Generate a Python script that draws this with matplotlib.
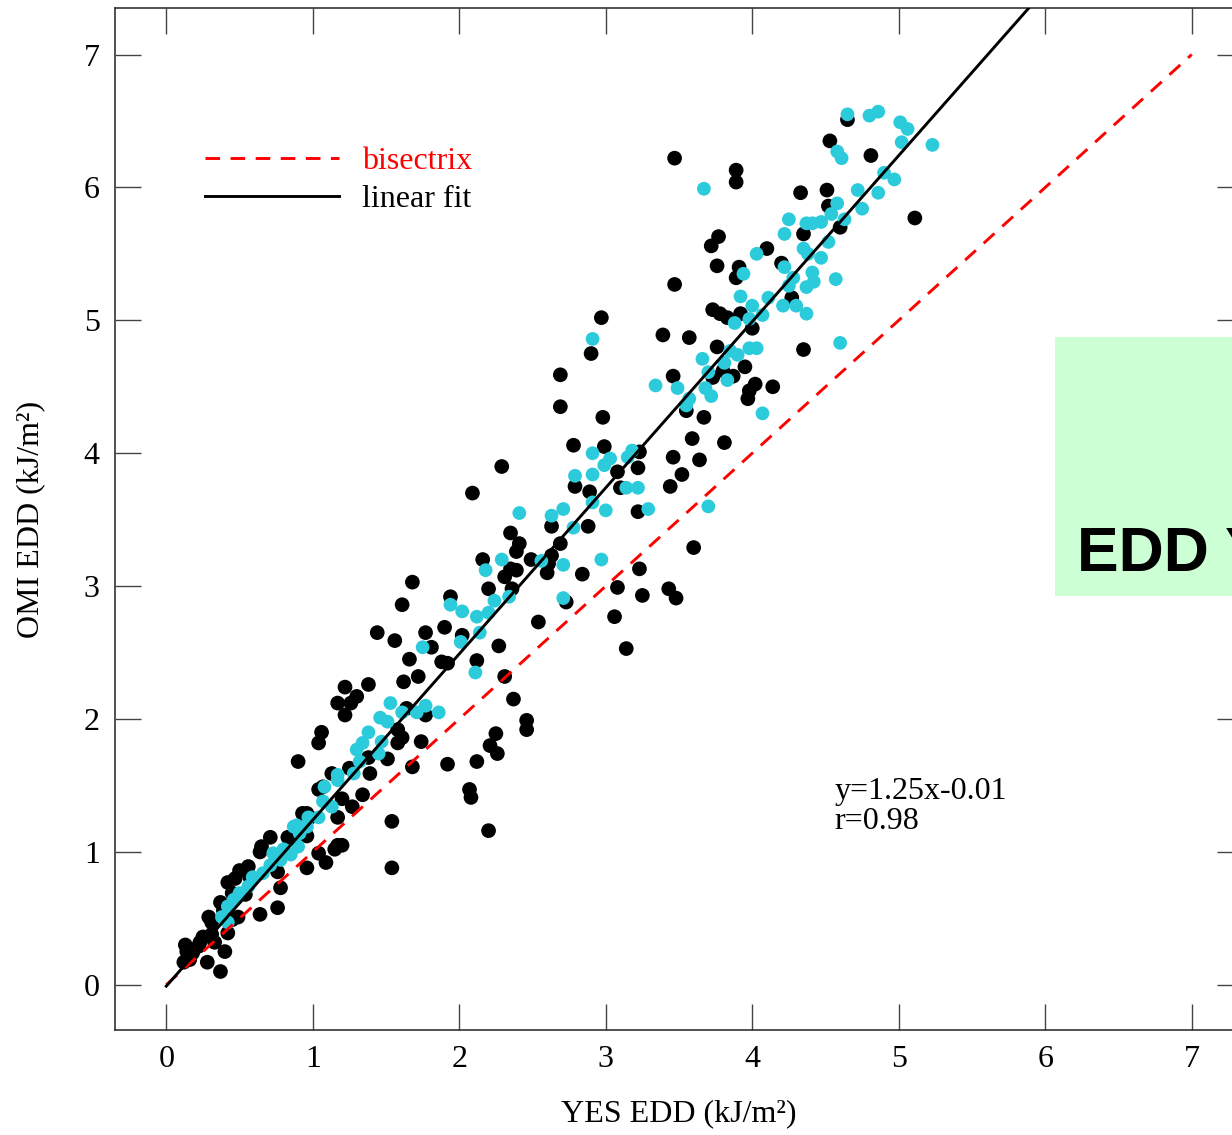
import matplotlib
matplotlib.use("Agg")
import matplotlib.pyplot as plt
from matplotlib.patches import Rectangle
import numpy as np

plt.rcParams['font.family'] = ['Liberation Serif', 'DejaVu Serif']

# ---- data (YES EDD, OMI EDD) in kJ/m2 ----
black_x = [3.47, 3.89, 3.89, 4.53, 4.81, 4.65, 4.33, 4.51, 4.52, 4.60, 4.35, 3.77, 3.72, 4.10, 4.20,
           3.76, 3.91, 3.89, 3.47, 5.11, 3.73, 3.78, 3.83, 3.92, 4.00, 4.27, 3.39, 3.57, 3.76, 4.35,
           2.97, 3.95, 3.80, 3.87, 3.73, 3.46, 4.02, 3.98, 3.97, 4.14, 2.98, 3.67, 3.55, 3.59, 3.81,
           2.99, 3.23, 3.08, 3.22, 3.46, 3.64, 3.52, 3.44, 3.10, 2.90, 2.69, 2.69, 2.29, 2.78, 2.79,
           2.89, 2.09, 3.22, 2.88, 2.63, 2.35, 2.41, 2.69, 2.39, 2.16, 2.49, 2.63, 2.61, 2.35, 2.39,
           2.31, 2.60, 2.84, 3.23, 3.60, 2.36, 2.20, 3.08, 3.25, 3.43, 3.48, 1.94, 2.73, 2.54, 3.06,
           1.90, 1.77, 2.02, 1.81, 2.27, 3.14, 1.68, 1.61, 1.44, 1.56, 1.66, 1.88, 1.92, 2.12, 1.72,
           1.62, 2.31, 1.38, 1.22, 1.17, 1.30, 1.26, 1.22, 1.64, 1.77, 2.37, 2.46, 2.46, 1.06, 1.04,
           1.58, 1.61, 1.58, 1.74, 2.25, 2.21, 2.26, 0.90, 1.51, 1.68, 1.92, 2.12, 1.38, 1.39, 2.07,
           2.08, 1.13, 1.25, 1.04, 1.07, 1.34, 1.20, 1.27, 1.17, 1.54, 2.20, 0.96, 0.98, 0.71, 0.83,
           0.96, 1.17, 1.20, 1.04, 0.65, 1.54, 1.15, 1.09, 0.96, 0.64, 0.56, 0.76, 0.78, 0.76, 0.64,
           0.42, 0.47, 0.45, 0.37, 0.29, 0.45, 0.49, 0.25, 0.42, 0.18, 0.16, 0.22, 0.40, 0.28, 0.37,
           0.33, 0.50, 0.57, 0.39, 0.31, 0.23, 0.14, 0.12, 0.93, 0.54, 0.31, 0.13]
black_y = [6.22, 6.13, 6.04, 6.35, 6.24, 6.51, 5.96, 5.98, 5.86, 5.70, 5.65, 5.63, 5.56, 5.54, 5.43,
           5.41, 5.40, 5.32, 5.27, 5.77, 5.08, 5.05, 5.02, 5.05, 4.94, 5.17, 4.89, 4.87, 4.80, 4.78,
           5.02, 4.65, 4.62, 4.58, 4.57, 4.58, 4.52, 4.47, 4.41, 4.50, 4.27, 4.27, 4.32, 4.11, 4.08,
           4.05, 4.01, 3.86, 3.89, 3.97, 3.95, 3.84, 3.75, 3.74, 4.75, 4.59, 4.35, 3.90, 4.06, 3.75,
           3.71, 3.70, 3.56, 3.45, 3.45, 3.40, 3.32, 3.32, 3.26, 3.20, 3.20, 3.23, 3.17, 3.13, 3.12,
           3.07, 3.10, 3.09, 3.13, 3.29, 2.98, 2.98, 2.99, 2.93, 2.98, 2.91, 2.92, 2.88, 2.73, 2.77,
           2.69, 2.65, 2.63, 2.54, 2.55, 2.53, 3.03, 2.86, 2.65, 2.59, 2.45, 2.43, 2.42, 2.44, 2.32,
           2.28, 2.32, 2.26, 2.24, 2.12, 2.17, 2.12, 2.03, 2.08, 2.03, 2.15, 1.99, 1.92, 1.90, 1.82,
           1.92, 1.86, 1.82, 1.83, 1.89, 1.80, 1.74, 1.68, 1.70, 1.64, 1.66, 1.68, 1.71, 1.59, 1.47,
           1.41, 1.59, 1.63, 1.47, 1.49, 1.43, 1.40, 1.34, 1.26, 1.23, 1.16, 1.29, 1.26, 1.11, 1.11,
           1.12, 1.05, 1.05, 0.99, 1.04, 0.88, 1.02, 0.92, 0.88, 1.00, 0.89, 0.85, 0.73, 0.58, 0.53,
           0.77, 0.80, 0.69, 0.62, 0.51, 0.49, 0.51, 0.36, 0.39, 0.24, 0.19, 0.29, 0.25, 0.17, 0.10,
           0.32, 0.86, 0.81, 0.56, 0.47, 0.32, 0.25, 0.17, 1.29, 0.68, 0.38, 0.30]

cyan_x = [4.65, 4.80, 4.86, 5.01, 5.06, 5.02, 5.23, 4.58, 4.61, 3.67, 4.90, 4.97, 4.72, 4.86, 4.58,
          4.75, 4.54, 4.63, 4.25, 4.37, 4.41, 4.47, 4.22, 4.52, 4.35, 4.38, 4.03, 4.47, 4.22, 4.41,
          4.42, 3.94, 4.28, 4.25, 4.37, 4.57, 3.92, 4.00, 4.11, 4.21, 4.30, 4.37, 4.07, 3.88, 3.98,
          3.98, 4.03, 3.90, 3.85, 3.66, 4.60, 3.81, 3.70, 3.83, 3.34, 3.49, 3.68, 3.72, 3.57, 3.55,
          4.07, 3.18, 3.15, 3.03, 2.99, 3.14, 3.22, 2.91, 3.70, 2.91, 2.79, 2.91, 2.91, 3.00, 3.29,
          2.41, 2.71, 2.63, 2.78, 2.29, 2.18, 2.56, 2.71, 2.97, 2.24, 2.34, 1.94, 2.02, 2.12, 2.20,
          2.71, 2.14, 2.01, 1.75, 2.11, 1.53, 1.61, 1.77, 1.71, 1.86, 1.46, 1.51, 1.38, 1.47, 1.45,
          1.34, 1.30, 1.32, 1.17, 1.17, 1.28, 1.07, 1.13, 1.08, 0.97, 1.04, 0.87, 0.91, 0.96, 0.73,
          0.85, 0.90, 0.89, 0.80, 0.78, 0.71, 0.66, 0.59, 0.56, 0.50, 0.46, 0.42, 0.38, 0.42, 0.48]
cyan_y = [6.55, 6.54, 6.57, 6.49, 6.44, 6.34, 6.32, 6.27, 6.22, 5.99, 6.11, 6.06, 5.98, 5.96, 5.88,
          5.84, 5.80, 5.76, 5.76, 5.73, 5.73, 5.74, 5.65, 5.59, 5.54, 5.50, 5.50, 5.47, 5.40, 5.36,
          5.29, 5.35, 5.32, 5.26, 5.25, 5.31, 5.18, 5.11, 5.17, 5.11, 5.11, 5.05, 5.04, 4.98, 5.01,
          4.79, 4.79, 4.74, 4.77, 4.71, 4.83, 4.68, 4.61, 4.55, 4.51, 4.49, 4.49, 4.43, 4.41, 4.36,
          4.30, 4.02, 3.97, 3.96, 3.91, 3.74, 3.74, 4.86, 3.60, 4.00, 3.83, 3.84, 3.63, 3.57, 3.58,
          3.55, 3.58, 3.53, 3.44, 3.20, 3.12, 3.19, 3.16, 3.20, 2.89, 2.92, 2.86, 2.81, 2.77, 2.80,
          2.91, 2.65, 2.58, 2.54, 2.35, 2.12, 2.05, 2.10, 2.05, 2.05, 2.01, 1.98, 1.90, 1.83, 1.74,
          1.82, 1.77, 1.68, 1.58, 1.54, 1.59, 1.38, 1.34, 1.49, 1.26, 1.26, 1.19, 1.14, 1.19, 0.99,
          0.98, 1.04, 1.20, 1.02, 0.94, 0.90, 0.84, 0.81, 0.74, 0.69, 0.64, 0.59, 0.51, 0.47, 0.65]

fit_slope = 1.25
fit_intercept = -0.01
fit_range = [0.0, 6.0]
bis_range = [0.0, 7.0]
x_ticks = [0, 1, 2, 3, 4, 5, 6, 7]
y_ticks = [0, 1, 2, 3, 4, 5, 6, 7]

W, H = 1232, 1135
fig = plt.figure(figsize=(W / 100, H / 100), dpi=100)
ax = fig.add_axes([115 / W, (H - 1030) / H, (1243 - 115) / W, (1030 - 8) / H])

ax.scatter(black_x, black_y, s=112, c='black', edgecolors='none', zorder=3)
ax.scatter(cyan_x, cyan_y, s=98, c='#2ccbdc', edgecolors='none', zorder=4)

bx = np.array(bis_range)
ax.plot(bx, bx, color='red', lw=2.1, dashes=(5.0, 3.6), zorder=5, label='bisectrix')
fx = np.array(fit_range)
ax.plot(fx, fit_slope * fx + fit_intercept, color='black', lw=2.1, zorder=6, label='linear fit')

ax.set_xlim(-0.35, 7.35)
ax.set_ylim(-0.34, 7.35)
ax.set_xticks(x_ticks)
ax.set_yticks(y_ticks)
ax.tick_params(direction='in', length=19, width=1.0, color='#444444', labelsize=23,
               top=True, right=True, pad=11)
for sp in ax.spines.values():
    sp.set_color('#333333')
    sp.set_linewidth(1.2)

ax.set_xlabel('YES EDD (kJ/m²)', fontsize=23, labelpad=18)
ax.set_ylabel('OMI EDD (kJ/m²)', fontsize=23, labelpad=28)

leg = ax.legend(loc='upper left', bbox_to_anchor=(0.0798, 0.864), frameon=False, fontsize=23,
                handlelength=4.2, handletextpad=0.7, labelspacing=0.27, borderpad=0,
                borderaxespad=0)
leg.get_texts()[0].set_color('red')

ax.text(4.56, 1.40, 'y=1.25x-0.01', fontsize=23, ha='left', va='baseline')
ax.text(4.56, 1.17, 'r=0.98', fontsize=23, ha='left', va='baseline')

# green overlay box (cropped at the figure edge)
fig.add_artist(Rectangle((1055 / W, (H - 596) / H), (1300 - 1055) / W, (596 - 337) / H,
                         transform=fig.transFigure, facecolor='#ccffd3', edgecolor='none', zorder=10))
fig.text(1077 / W, (H - 572) / H, 'EDD YES', fontsize=45, fontweight='bold',
         family=['Liberation Sans', 'DejaVu Sans'], ha='left', va='baseline', zorder=11)

fig.savefig('out.png', dpi=100)
